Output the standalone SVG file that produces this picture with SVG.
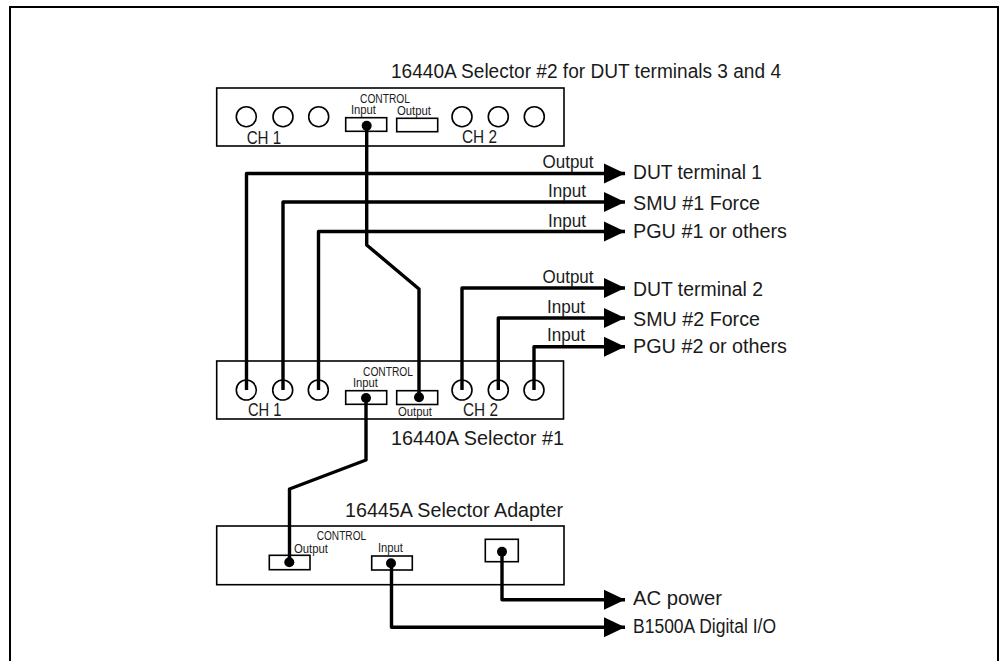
<svg xmlns="http://www.w3.org/2000/svg" width="1000" height="661" viewBox="0 0 1000 661">
<style>
text{font-family:"Liberation Sans Narrow","Liberation Sans",Arial,sans-serif;fill:#1a1a1a}
.t{font-size:20px}.m{font-size:18px}.l{font-size:17.5px}.s{font-size:12.5px}
.box,.port{fill:#fff;stroke:#000;stroke-width:1.6}
.c{fill:none;stroke:#000;stroke-width:1.6}
.d{fill:#000}
.w{fill:none;stroke:#000;stroke-width:3.4;stroke-linejoin:round}
.wa{marker-end:url(#arrow)}
.frame{fill:none;stroke:#000;stroke-width:2}
</style>
<defs>
<marker id="arrow" markerUnits="userSpaceOnUse" markerWidth="22" markerHeight="20" refX="21" refY="10" orient="auto" overflow="visible"><polygon points="0,0 21,10 0,20" fill="#000"/></marker>
</defs>
<path class="frame" d="M10 661V7H998V661"/>
<g id="selector2">
<rect class="box" x="216.7" y="88" width="347.3" height="58"/>
<circle class="c" cx="246.3" cy="116.7" r="10"/><circle class="c" cx="283" cy="116.7" r="10"/><circle class="c" cx="318.7" cy="116.7" r="10"/>
<circle class="c" cx="462" cy="116.7" r="10"/><circle class="c" cx="498.3" cy="116.7" r="10"/><circle class="c" cx="534.3" cy="116.7" r="10"/>
<rect class="port" x="345.7" y="117.7" width="41" height="13.6"/><rect class="port" x="396.7" y="118.3" width="41" height="13.4"/>
<circle class="d" cx="366.7" cy="125.7" r="5"/>
<text class="t" x="391" y="78" textLength="390" lengthAdjust="spacingAndGlyphs">16440A Selector #2 for DUT terminals 3 and 4</text>
<text class="s" x="360" y="103" textLength="50" lengthAdjust="spacingAndGlyphs">CONTROL</text>
<text class="s" x="351" y="114" textLength="25" lengthAdjust="spacingAndGlyphs">Input</text>
<text class="s" x="397" y="115" textLength="34" lengthAdjust="spacingAndGlyphs">Output</text>
<text class="m" x="246.7" y="144" textLength="34.5" lengthAdjust="spacingAndGlyphs">CH 1</text>
<text class="m" x="462" y="143" textLength="35" lengthAdjust="spacingAndGlyphs">CH 2</text>
</g>
<g id="selector1">
<rect class="box" x="216.7" y="361" width="346.8" height="58"/>
<circle class="c" cx="246.3" cy="390" r="10"/><circle class="c" cx="282.7" cy="390" r="10"/><circle class="c" cx="318.3" cy="390" r="10"/>
<circle class="c" cx="462" cy="390" r="10"/><circle class="c" cx="498.3" cy="390" r="10"/><circle class="c" cx="534" cy="390" r="10"/>
<rect class="port" x="345.7" y="390.7" width="41" height="13.6"/><rect class="port" x="396.7" y="390.7" width="41" height="13.8"/>
<circle class="d" cx="366" cy="398" r="5"/><circle class="d" cx="419" cy="397.3" r="5"/>
<text class="s" x="363" y="375.7" textLength="50" lengthAdjust="spacingAndGlyphs">CONTROL</text>
<text class="s" x="353" y="387" textLength="25" lengthAdjust="spacingAndGlyphs">Input</text>
<text class="s" x="398" y="416" textLength="34" lengthAdjust="spacingAndGlyphs">Output</text>
<text class="m" x="248" y="416" textLength="33.5" lengthAdjust="spacingAndGlyphs">CH 1</text>
<text class="m" x="463" y="416" textLength="35" lengthAdjust="spacingAndGlyphs">CH 2</text>
<text class="t" x="391" y="445" textLength="173" lengthAdjust="spacingAndGlyphs">16440A Selector #1</text>
</g>
<g id="adapter">
<rect class="box" x="216.7" y="526" width="347.3" height="58.7"/>
<rect class="port" x="269.3" y="555.3" width="40.7" height="14.4"/><rect class="port" x="371.7" y="556" width="40.6" height="14"/><rect class="port" x="485.3" y="539.3" width="33" height="22.4"/>
<circle class="d" cx="289.3" cy="562.3" r="5"/><circle class="d" cx="391" cy="563.3" r="5"/><circle class="d" cx="502" cy="551.7" r="5"/>
<text class="t" x="345" y="517" textLength="218" lengthAdjust="spacingAndGlyphs">16445A Selector Adapter</text>
<text class="s" x="316.7" y="540" textLength="49.5" lengthAdjust="spacingAndGlyphs">CONTROL</text>
<text class="s" x="294" y="553" textLength="34" lengthAdjust="spacingAndGlyphs">Output</text>
<text class="s" x="378" y="552" textLength="25" lengthAdjust="spacingAndGlyphs">Input</text>
</g>
<g id="connectors">
<path class="w wa" d="M246.5 390V173.5H625"/>
<path class="w wa" d="M283 390V202H625"/>
<path class="w wa" d="M318.5 390V231.5H625"/>
<path class="w wa" d="M462 390V288H625"/>
<path class="w wa" d="M498.3 390V318H625"/>
<path class="w wa" d="M534 390V346.7H625"/>
<path class="w" d="M366.7 125.7V245L419 289V397"/>
<path class="w" d="M366 398V460L289.5 489V562"/>
<path class="w wa" d="M502 552V599.7H625"/>
<path class="w wa" d="M391.5 563V627.3H625"/>
</g>
<g id="labels">
<text class="l" x="542.5" y="168" textLength="51" lengthAdjust="spacingAndGlyphs">Output</text>
<text class="l" x="548" y="197" textLength="38" lengthAdjust="spacingAndGlyphs">Input</text>
<text class="l" x="548" y="227" textLength="38" lengthAdjust="spacingAndGlyphs">Input</text>
<text class="l" x="542.5" y="283" textLength="51" lengthAdjust="spacingAndGlyphs">Output</text>
<text class="l" x="547" y="312.7" textLength="38" lengthAdjust="spacingAndGlyphs">Input</text>
<text class="l" x="547" y="340.7" textLength="38" lengthAdjust="spacingAndGlyphs">Input</text>
</g>
<g id="dut1"><text class="t" x="633" y="179" textLength="129" lengthAdjust="spacingAndGlyphs">DUT terminal 1</text></g>
<g id="smu1"><text class="t" x="633" y="210" textLength="127" lengthAdjust="spacingAndGlyphs">SMU #1 Force</text></g>
<g id="pgu1"><text class="t" x="633" y="238" textLength="154" lengthAdjust="spacingAndGlyphs">PGU #1 or others</text></g>
<g id="dut2"><text class="t" x="633" y="295.7" textLength="130" lengthAdjust="spacingAndGlyphs">DUT terminal 2</text></g>
<g id="smu2"><text class="t" x="633" y="326" textLength="127" lengthAdjust="spacingAndGlyphs">SMU #2 Force</text></g>
<g id="pgu2"><text class="t" x="633" y="353" textLength="154" lengthAdjust="spacingAndGlyphs">PGU #2 or others</text></g>
<g id="ac"><text class="t" x="633" y="605" textLength="89" lengthAdjust="spacingAndGlyphs">AC power</text></g>
<g id="b1500"><text class="t" x="633" y="633" textLength="143" lengthAdjust="spacingAndGlyphs">B1500A Digital I/O</text></g>
</svg>
